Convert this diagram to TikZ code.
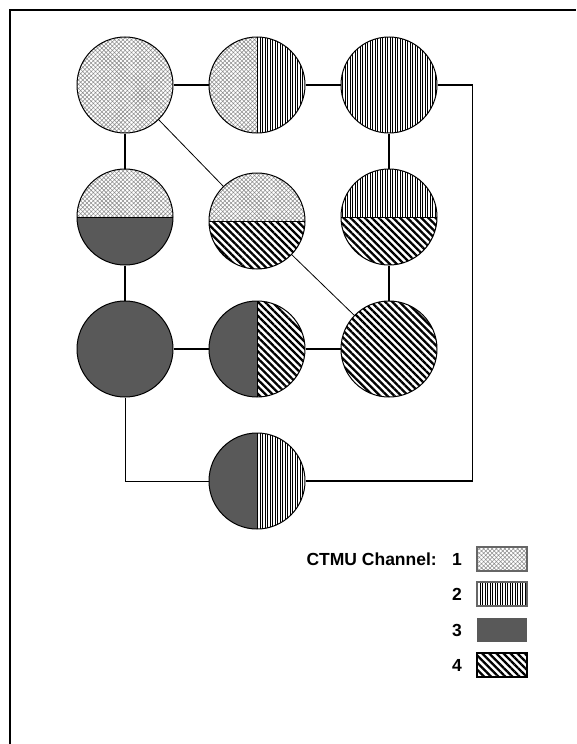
\documentclass[tikz,border=0pt]{standalone}
\usepackage{fontspec}
\setsansfont{Liberation Sans}
\usetikzlibrary{positioning,patterns.meta}

\definecolor{chgrey}{RGB}{89,89,89}

\begin{document}
\begin{tikzpicture}[x=1pt, y=-1pt, node distance=132pt, on grid,
                chan/.style={circle, draw, line width=1pt, minimum size=96pt, inner sep=0pt},
                chA/.style={pattern={Hatch[angle=45,distance=3pt,line width=0.55pt]}, pattern color=black!45},
                chB/.style={pattern={Lines[angle=90,distance=2.5pt,line width=0.7pt]}, pattern color=black},
                chC/.style={fill=chgrey},
                chD/.style={pattern={Lines[angle=-45,distance=5pt,line width=2.3pt]}, pattern color=black},
                whole/.style={path picture={\fill[#1] (path picture bounding box.south west) rectangle (path picture bounding box.north east);}},
                splith/.style 2 args={path picture={
                    \fill[#1] (path picture bounding box.north west) rectangle (path picture bounding box.east);
                    \fill[#2] (path picture bounding box.west) rectangle (path picture bounding box.south east);
                    \draw[line width=1pt] (path picture bounding box.west) -- (path picture bounding box.east);}},
                splitv/.style 2 args={path picture={
                    \fill[#1] (path picture bounding box.north west) rectangle (path picture bounding box.south);
                    \fill[#2] (path picture bounding box.north) rectangle (path picture bounding box.south east);
                    \draw[line width=1pt] (path picture bounding box.north) -- (path picture bounding box.south);}},
                link/.style={line width=1.6pt},
                fine/.style={line width=0.8pt},
                keybox/.style={minimum width=50pt, minimum height=24pt, inner sep=0pt},
                keytext/.style={font=\sffamily\bfseries\fontsize{17.5}{20}\selectfont, inner sep=0pt, anchor=east}]
                \useasboundingbox (0,0) rectangle (576,744);
                \draw[line width=2pt] (9.5,744) -- (9.5,9.5) -- (576,9.5);

                % channel rings
                \node[chan, whole=chA] (a1) at (125,85) {};
                \node[chan, splitv={chA}{chB}, right=of a1] (a2) {};
                \node[chan, whole=chB, right=of a2] (a3) {};
                \node[chan, splith={chA}{chC}, below=of a1] (b1) {};
                \node[chan, splith={chA}{chD}, below=of a2, yshift=-4pt] (b2) {};
                \node[chan, splith={chB}{chD}, below=of a3] (b3) {};
                \node[chan, whole=chC, below=of b1] (c1) {};
                \node[chan, splitv={chC}{chD}, right=of c1] (c2) {};
                \node[chan, whole=chD, right=of c2] (c3) {};
                \node[chan, splitv={chC}{chB}, below=of c2] (d2) {};

                \draw[link] (a1) -- (a2) -- (a3);
                \draw[link] (a1) -- (b1) -- (c1) -- (c2) -- (c3) -- (b3) -- (a3);
                \draw[fine] (a1) -- (b2) -- (c3);
                \draw[link] (a3.east) -- ++(35pt,0) |- (d2.east);
                \draw[fine] (c1.south) |- (d2.west);

                % legend
                \node[keytext] (lab) at (437,559) {CTMU Channel:};
                \node[keytext] (n1) at (462,559) {1};
                \node[keytext] (n2) at (462,594) {2};
                \node[keytext] (n3) at (462,630) {3};
                \node[keytext] (n4) at (462,665) {4};
                \node[keybox, chA, draw=black!60, line width=1.5pt] (k1) at (502,559) {};
                \node[keybox, chB, draw=black!60, line width=1.5pt] (k2) at (502,594) {};
                \node[keybox, chC] (k3) at (502,630) {};
                \node[keybox, chD, draw=black, line width=2pt] (k4) at (502,665) {};
\end{tikzpicture}
\end{document}
